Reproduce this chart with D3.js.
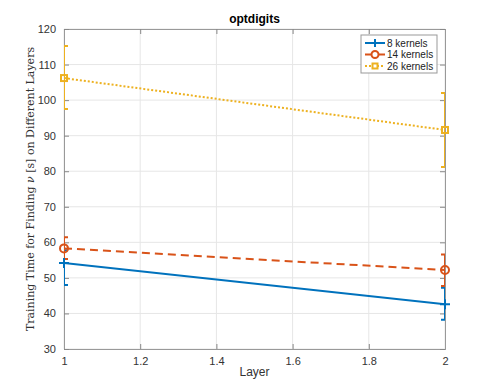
<!DOCTYPE html>
<html><head><meta charset="utf-8">
<script src="https://cdn.jsdelivr.net/npm/d3@7"></script>
<style>body{margin:0;background:#fff}svg{display:block}</style>
</head><body>
<script>
const layers = [1, 2];
const seriesNames = ["8 kernels", "14 kernels", "26 kernels"];
const means8 = [54.2, 42.6];
const lower8 = [48.0, 38.2];
const upper8 = [57.8, 47.2];
const means14 = [58.3, 52.2];
const lower14 = [55.3, 47.7];
const upper14 = [61.4, 56.6];
const means26 = [106.2, 91.6];
const lower26 = [97.5, 81.2];
const upper26 = [115.2, 102.0];
const xTicks = [1, 1.2, 1.4, 1.6, 1.8, 2];
const yTicks = [30, 40, 50, 60, 70, 80, 90, 100, 110, 120];

const W = 491, H = 392;
const m = {l: 64, r: 46, t: 29, b: 43};
const svg = d3.select("body").append("svg").attr("width", W).attr("height", H);
const x = d3.scaleLinear().domain([1, 2]).range([m.l, W - m.r]);
const y = d3.scaleLinear().domain([30, 120]).range([H - m.b, m.t]);
const font = "'Liberation Sans', Arial, sans-serif";

// grid
svg.append("g").selectAll("line").data(xTicks).join("line")
  .attr("x1", d => x(d)).attr("x2", d => x(d)).attr("y1", y(30)).attr("y2", y(120))
  .attr("stroke", "#e6e6e6").attr("stroke-width", 1);
svg.append("g").selectAll("line").data(yTicks).join("line")
  .attr("y1", d => y(d)).attr("y2", d => y(d)).attr("x1", x(1)).attr("x2", x(2))
  .attr("stroke", "#e6e6e6").attr("stroke-width", 1);

// axes
const axB = d3.axisBottom(x).tickValues(xTicks).tickSize(-5).tickPadding(8).tickFormat(d3.format("~g"));
const axT = d3.axisTop(x).tickValues(xTicks).tickSize(-5).tickFormat("");
const axL = d3.axisLeft(y).tickValues(yTicks).tickSize(-5).tickPadding(8);
const axR = d3.axisRight(y).tickValues(yTicks).tickSize(-5).tickFormat("");
function style(g) {
  g.selectAll("path").attr("stroke", "#999").attr("stroke-width", 1);
  g.selectAll("line").attr("stroke", "#888");
  g.selectAll("text").attr("fill", "#333").style("font-family", font).style("font-size", "11px");
}
svg.append("g").attr("transform", `translate(0,${y(30)})`).call(axB).call(style);
svg.append("g").attr("transform", `translate(0,${y(120)})`).call(axT).call(style);
svg.append("g").attr("transform", `translate(${x(1)},0)`).call(axL).call(style);
svg.append("g").attr("transform", `translate(${x(2)},0)`).call(axR).call(style);

svg.append("defs").append("clipPath").attr("id", "clip").append("rect")
  .attr("x", x(1)).attr("y", y(120)).attr("width", x(2) - x(1)).attr("height", y(30) - y(120));

const series = [
  {name: seriesNames[0], mean: means8, lo: lower8, hi: upper8, color: "#0072BD", dash: null, marker: "plus"},
  {name: seriesNames[1], mean: means14, lo: lower14, hi: upper14, color: "#D95319", dash: "8,5", marker: "circle"},
  {name: seriesNames[2], mean: means26, lo: lower26, hi: upper26, color: "#EDB120", dash: "2,2", marker: "square"}
];

const plot = svg.append("g").attr("clip-path", "url(#clip)");
function drawMarker(g, type, cx, cy, color) {
  if (type === "plus") {
    g.append("path").attr("d", `M${cx-5},${cy}H${cx+5}M${cx},${cy-5}V${cy+5}`)
      .attr("stroke", color).attr("stroke-width", 2).attr("fill", "none");
  } else if (type === "circle") {
    g.append("circle").attr("cx", cx).attr("cy", cy).attr("r", 4)
      .attr("stroke", color).attr("stroke-width", 2).attr("fill", "none");
  } else {
    g.append("rect").attr("x", cx - 3).attr("y", cy - 3).attr("width", 6).attr("height", 6)
      .attr("stroke", color).attr("stroke-width", 2).attr("fill", "none");
  }
}
series.forEach(s => {
  const pts = layers.map((l, i) => [x(l), y(s.mean[i])]);
  plot.append("path").attr("d", d3.line()(pts)).attr("fill", "none")
    .attr("stroke", s.color).attr("stroke-width", 2).attr("stroke-dasharray", s.dash);
  layers.forEach((l, i) => {
    const cx = x(l);
    plot.append("path")
      .attr("d", `M${cx-4},${y(s.hi[i])}H${cx+4}M${cx},${y(s.hi[i])}V${y(s.lo[i])}M${cx-4},${y(s.lo[i])}H${cx+4}`)
      .attr("stroke", s.color).attr("stroke-width", 2).attr("fill", "none");
  });
});
series.forEach(s => {
  layers.forEach((l, i) => drawMarker(svg, s.marker, x(l), y(s.mean[i]), s.color));
});

// title & labels
svg.append("text").attr("x", (x(1) + x(2)) / 2).attr("y", 23).attr("text-anchor", "middle")
  .style("font-family", font).style("font-size", "12px").style("font-weight", "bold").text("optdigits");
svg.append("text").attr("x", (x(1) + x(2)) / 2).attr("y", 376).attr("text-anchor", "middle")
  .attr("fill", "#333").style("font-family", font).style("font-size", "12px").text("Layer");
const yl = svg.append("text").attr("transform", `translate(34,${(y(30) + y(120)) / 2}) rotate(-90)`)
  .attr("text-anchor", "middle").attr("fill", "#333")
  .style("font-family", "'DejaVu Serif', 'Liberation Serif', serif").style("font-size", "11px");
yl.append("tspan").text("Training Time for Finding ");
yl.append("tspan").style("font-style", "italic").text("ν");
yl.append("tspan").text(" [s] on Different Layers");

// legend
const lg = svg.append("g");
lg.append("rect").attr("x", 361).attr("y", 35).attr("width", 76).attr("height", 38)
  .attr("fill", "#fff").attr("stroke", "#999").attr("stroke-width", 1);
series.forEach((s, i) => {
  const ly = 43 + i * 11.5;
  lg.append("line").attr("x1", 365).attr("x2", 385).attr("y1", ly).attr("y2", ly)
    .attr("stroke", s.color).attr("stroke-width", 2).attr("stroke-dasharray", s.dash);
  const mk = lg.append("g");
  if (s.marker === "plus") mk.append("path").attr("d", `M371,${ly}H379M375,${ly-4}V${ly+4}`).attr("stroke", s.color).attr("stroke-width", 2);
  else if (s.marker === "circle") mk.append("circle").attr("cx", 375).attr("cy", ly).attr("r", 3.5).attr("fill", "#fff").attr("stroke", s.color).attr("stroke-width", 2);
  else mk.append("rect").attr("x", 372.5).attr("y", ly - 2.5).attr("width", 5).attr("height", 5).attr("fill", "#fff").attr("stroke", s.color).attr("stroke-width", 2);
  lg.append("text").attr("x", 387).attr("y", ly + 3.5).style("font-family", font)
    .style("font-size", "10px").attr("fill", "#222").text(s.name);
});
</script>
</body></html>
